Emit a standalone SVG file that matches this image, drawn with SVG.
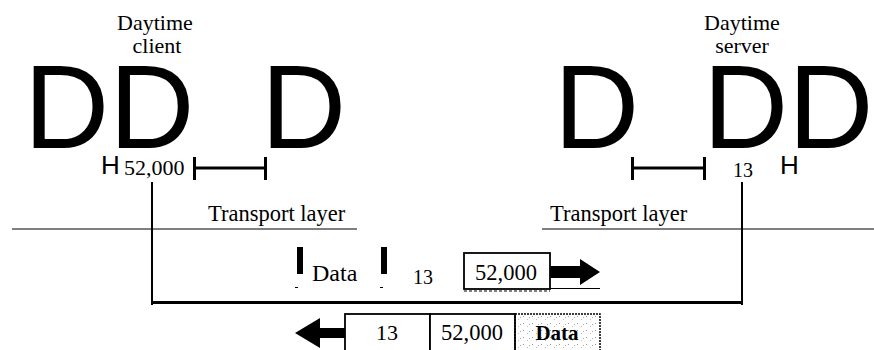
<svg xmlns="http://www.w3.org/2000/svg" width="874" height="350" viewBox="0 0 874 350">
<defs>
<style>
.serif{font-family:'Liberation Serif','DejaVu Serif',serif;fill:#000}
.big{font-family:'Liberation Sans','DejaVu Sans',sans-serif;font-size:118px;fill:#000}
.h{font-family:'Liberation Sans','DejaVu Sans',sans-serif;font-size:26px;fill:#000}
.thin{stroke:#000;stroke-width:1.2;fill:none}
.med{stroke:#000;stroke-width:2;fill:none}
.thick{stroke:#000;stroke-width:3;fill:none}
.bar{fill:#000}
.box{fill:#fff;stroke:#000;stroke-width:1.8}
</style>
<pattern id="noise" width="9" height="7" patternUnits="userSpaceOnUse">
<rect x="1" y="1" width="1" height="1" fill="#999"/>
<rect x="5" y="4" width="1" height="1" fill="#bbb"/>
<rect x="7" y="2" width="1" height="1" fill="#aaa"/>
</pattern>
</defs>
<rect width="874" height="350" fill="#fff"/>

<g id="client">
<text class="serif" font-family="Liberation Serif, serif" x="155" y="30" font-size="22" text-anchor="middle">Daytime</text>
<text class="serif" font-family="Liberation Serif, serif" x="157" y="53" font-size="22" text-anchor="middle">client</text>
<text class="big" x="24" y="148">DD</text>
<text class="h" x="101" y="174">H</text>
<text class="serif" font-family="Liberation Serif, serif" x="124" y="175" font-size="22">52,000</text>
<path class="med" d="M194.5 157V180M194.5 168H265.5M265.5 157V180" style="stroke-width:3"/>
</g>

<g id="middle-glyphs">
<text class="big" x="261" y="148">D</text>
<text class="big" x="554" y="148">D</text>
</g>

<g id="server">
<text class="serif" font-family="Liberation Serif, serif" x="742" y="30" font-size="22" text-anchor="middle">Daytime</text>
<text class="serif" font-family="Liberation Serif, serif" x="742" y="53" font-size="22" text-anchor="middle">server</text>
<text class="big" x="703" y="148">DD</text>
<path class="med" d="M632.5 157V180M632.5 168H704.5M704.5 157V180" style="stroke-width:3"/>
<text class="serif" font-family="Liberation Serif, serif" x="733" y="177" font-size="20">13</text>
<text class="h" x="780" y="174">H</text>
</g>

<g id="transport-left">
<text class="serif" font-family="Liberation Serif, serif" x="208" y="221" font-size="22.5">Transport layer</text>
<line class="thin" x1="12" y1="229" x2="357" y2="229"/>
</g>
<g id="transport-right">
<text class="serif" font-family="Liberation Serif, serif" x="550" y="221" font-size="22.5">Transport layer</text>
<line class="thin" x1="542" y1="229" x2="874" y2="229"/>
</g>

<g id="segment-upper">
<rect class="bar" x="297" y="247" width="6" height="27"/>
<rect class="bar" x="295" y="287" width="3" height="1"/>
<text class="serif" font-family="Liberation Serif, serif" x="312" y="281" font-size="24">Data</text>
<rect class="bar" x="381" y="247" width="6" height="27"/>
<rect class="bar" x="380" y="287" width="3" height="1"/>
<text class="serif" font-family="Liberation Serif, serif" x="413" y="284" font-size="20">13</text>
<rect class="box" x="464" y="253" width="86" height="36"/>
<line x1="464" y1="291" x2="550" y2="291" stroke="#000" stroke-width="1" stroke-dasharray="3 2"/>
<text class="serif" font-family="Liberation Serif, serif" x="475" y="280" font-size="22.5">52,000</text>
</g>

<g id="segment-lower">
<rect class="box" x="345" y="314" width="85" height="40"/>
<rect class="box" x="430" y="314" width="85" height="40"/>
<rect x="515" y="314" width="85" height="40" fill="url(#noise)" stroke="#000" stroke-width="1.5" stroke-dasharray="2 1"/>
<text class="serif" font-family="Liberation Serif, serif" x="387" y="340" font-size="22" text-anchor="middle">13</text>
<text class="serif" font-family="Liberation Serif, serif" x="472" y="340" font-size="22.5" text-anchor="middle">52,000</text>
<text class="serif" font-family="Liberation Serif, serif" x="557" y="340" font-size="21" font-weight="bold" text-anchor="middle">Data</text>
</g>

<g id="connectors">
<path class="med" d="M152 182V305"/>
<path class="med" d="M742 182V305"/>
<path class="thick" d="M151 302.5H743"/>
<path class="bar" d="M550 266H580V259L600 272L580 285V278H550Z"/>
<line class="thin" x1="550" y1="288.5" x2="600" y2="288.5"/>
<path class="bar" d="M345 328H320V318L295 333L320 348V338H345Z"/>
</g>
</svg>
